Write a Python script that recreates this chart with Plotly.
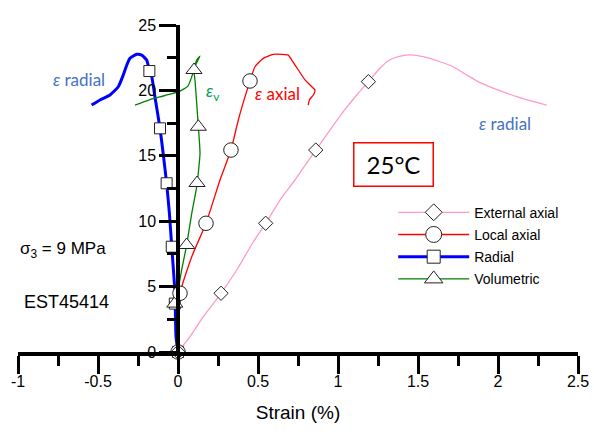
import plotly.graph_objects as go

# ---------------- data ----------------
ext_x = [0, 0.075, 0.158, 0.269, 0.367, 0.471, 0.548, 0.6375, 0.731, 0.861, 0.95, 1.033, 1.117, 1.19,
         1.2625, 1.314, 1.377, 1.45, 1.533, 1.6375, 1.72, 1.804, 1.8875, 1.99, 2.117, 2.2, 2.304]
ext_y = [0, 1.17, 2.7, 4.49, 6.27, 8.43, 9.84, 11.62, 13.15, 15.44, 16.97, 18.37, 19.65, 20.67,
         21.69, 22.27, 22.58, 22.71, 22.58, 22.19, 21.81, 21.18, 20.59, 20.08, 19.52, 19.21, 18.88]
ext_mx = [0, 0.269, 0.548, 0.861, 1.19]
ext_my = [0, 4.49, 9.84, 15.44, 20.67]

local_x = [0, 0.008, 0.0125, 0.086, 0.175, 0.2625, 0.331, 0.377, 0.419, 0.45, 0.481, 0.533, 0.596,
           0.648, 0.689, 0.711, 0.752, 0.794, 0.836, 0.856, 0.846, 0.821, 0.814]
local_y = [0, 2.45, 4.49, 7.29, 9.84, 13.15, 15.44, 17.74, 19.52, 20.72, 21.81, 22.45, 22.76,
           22.76, 22.7, 22.32, 21.56, 20.8, 20.28, 20.03, 19.65, 19.27, 18.88]
local_mx = [0, 0.0125, 0.175, 0.331, 0.45]
local_my = [0, 4.49, 9.84, 15.44, 20.72]

radial_x = [0, -0.0125, -0.019, -0.039, -0.054, -0.071, -0.091, -0.1125, -0.144, -0.164, -0.179,
            -0.196, -0.227, -0.258, -0.3, -0.32, -0.342, -0.373, -0.425, -0.4875, -0.54]
radial_y = [0, 1.17, 4.51, 8.05, 10.63, 12.9, 15.0, 17.1, 19.5, 21.05, 21.56,
            22.32, 22.7, 22.76, 22.45, 21.94, 21.18, 20.28, 19.65, 19.27, 18.88]
radial_mx = [0, -0.02, -0.039, -0.071, -0.1125, -0.179]
radial_my = [0, 3.7, 8.05, 12.9, 17.1, 21.48]

vol_x = [0, -0.004, 0.002, 0.023, 0.054, 0.086, 0.117, 0.1375, 0.127, 0.117, 0.106, 0.1, 0.117,
         0.1375, 0.1125, 0.0875, 0.0625, 0.0125, -0.081, -0.175, -0.269]
vol_y = [0, 2.45, 4.74, 6.27, 8.18, 10.6, 12.64, 15.19, 17.22, 19.01, 20.8, 21.56, 22.32,
         22.63, 22.0, 21.1, 20.34, 19.95, 19.61, 19.3, 18.88]
vol_mx = [0, -0.02, 0.054, 0.119, 0.127, 0.1]
vol_my = [0, 3.7, 8.18, 12.92, 17.22, 21.56]

series_names = ["External axial", "Local axial", "Radial", "Volumetric"]

x_tick_vals = [-1, -0.5, 0, 0.5, 1, 1.5, 2, 2.5]
x_tick_text = ["-1", "-0.5", "0", "0.5", "1", "1.5", "2", "2.5"]
y_tick_vals = [0, 5, 10, 15, 20, 25]
y_tick_text = ["0", "5", "10", "15", "20", "25"]

# ---------------- styles ----------------
styles = {
    "External axial": dict(color="#ff99cc", width=1.3, symbol="diamond", size=11),
    "Local axial": dict(color="#ff0000", width=1.3, symbol="circle", size=14.5),
    "Radial": dict(color="#0000ff", width=3, symbol="square", size=11),
    "Volumetric": dict(color="#008000", width=1.3, symbol="triangle-up", size=14),
}
lines = {
    "External axial": (ext_x, ext_y),
    "Local axial": (local_x, local_y),
    "Radial": (radial_x, radial_y),
    "Volumetric": (vol_x, vol_y),
}
marks = {
    "External axial": (ext_mx, ext_my),
    "Local axial": (local_mx, local_my),
    "Radial": (radial_mx, radial_my),
    "Volumetric": (vol_mx, vol_my),
}

AX = "Liberation Sans, Arial, sans-serif"
CAL = "Lato, Carlito, Calibri, sans-serif"

fig = go.Figure()
for name in series_names:
    st = styles[name]
    x, y = lines[name]
    fig.add_trace(go.Scatter(x=x, y=y, mode="lines", showlegend=False, cliponaxis=False,
                             line=dict(color=st["color"], width=st["width"], shape="spline", smoothing=0.5),
                             hoverinfo="skip"))
for name in ["Radial", "Volumetric", "Local axial", "External axial"]:
    st = styles[name]
    x, y = marks[name]
    fig.add_trace(go.Scatter(x=x, y=y, mode="markers", showlegend=False, cliponaxis=False,
                             marker=dict(symbol=st["symbol"], size=st["size"], color="white",
                                         line=dict(color="#222222", width=1))))
for i, name in enumerate(series_names):
    st = styles[name]
    fig.add_trace(go.Scatter(x=[None], y=[None], mode="lines+markers", name=name,
                             legendgroup="g%d" % i,
                             line=dict(color=st["color"], width=st["width"]),
                             marker=dict(symbol=st["symbol"], size=st["size"] + 2, color="white",
                                         line=dict(color="#222222", width=1))))

ann = []
ann.append(dict(x=-0.619, y=20.8, text="<i>ε</i> radial", font=dict(family=CAL, size=17, color="#4472c4")))
ann.append(dict(x=2.044, y=17.5, text="<i>ε</i> radial", font=dict(family=CAL, size=17, color="#4472c4")))
ann.append(dict(x=0.619, y=19.8, text="<i>ε</i> axial", font=dict(family=CAL, size=17, color="#ff0000")))
ann.append(dict(x=0.2125, y=19.9, text="<i>ε</i><sub>v</sub>", font=dict(family=CAL, size=17, color="#00a050")))
ann.append(dict(x=1.344, y=14.37, text="25°C", font=dict(family=CAL, size=24, color="black"),
                bordercolor="#ff0000", borderwidth=1.5, borderpad=1, width=76, height=40, bgcolor="white"))
ann.append(dict(x=-1.0, y=7.8, xanchor="left", text="σ<sub>3</sub> = 9 MPa",
                font=dict(family=AX, size=17, color="black")))
ann.append(dict(x=-0.975, y=3.82, xanchor="left", text="EST45414",
                font=dict(family=AX, size=18, color="black")))
ann.append(dict(x=0.069, y=25.4, xanchor="left", text="q (MPa)",
                font=dict(family=AX, size=19, color="black")))
for a in ann:
    a.setdefault("xref", "x")
    a.setdefault("yref", "y")
    a["showarrow"] = False

fig.update_layout(
    width=594, height=436,
    margin=dict(l=18, r=16, t=25, b=84, autoexpand=False),
    paper_bgcolor="white", plot_bgcolor="white",
    font=dict(family=AX, color="black"),
    annotations=ann,
    legend=dict(x=0.67, y=0.475, xanchor="left", yanchor="top", bgcolor="rgba(0,0,0,0)",
                font=dict(family=AX, size=14), itemwidth=71, tracegroupgap=1),
    xaxis=dict(range=[-1, 2.5], tickmode="array", tickvals=x_tick_vals, ticktext=x_tick_text,
               automargin=False, ticklabelstandoff=-6,
               showgrid=False, zeroline=False, showline=True, linecolor="black", linewidth=3.5,
               ticks="outside", ticklen=18, tickwidth=3, tickcolor="black",
               tickfont=dict(family=AX, size=16),
               minor=dict(tickmode="linear", tick0=-1, dtick=0.25, ticks="outside", ticklen=10,
                          tickwidth=3, tickcolor="black", showgrid=False),
               title=dict(text="Strain (%)", font=dict(family=AX, size=19), standoff=18)),
    yaxis=dict(range=[0, 25], anchor="free", position=1 / 3.5, tickmode="array",
               tickvals=y_tick_vals, ticktext=y_tick_text, automargin=False,
               showgrid=False, zeroline=False, showline=True, linecolor="black", linewidth=3.5,
               ticks="outside", ticklen=17, tickwidth=3, tickcolor="black",
               tickfont=dict(family=AX, size=16),
               minor=dict(tickmode="linear", tick0=0, dtick=2.5, ticks="outside", ticklen=9,
                          tickwidth=3, tickcolor="black", showgrid=False)),
)

fig.write_html("out.html", config={"displayModeBar": False},
               post_script="document.body.style.margin='0';")
